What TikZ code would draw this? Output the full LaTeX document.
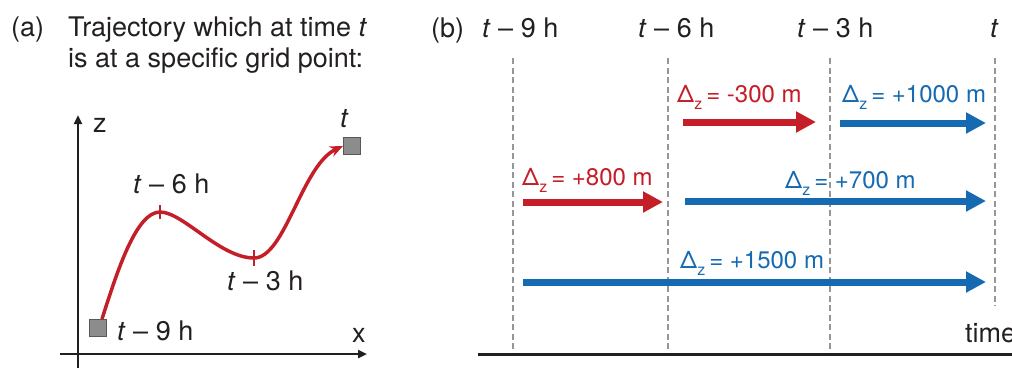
\documentclass[tikz,border=0pt]{standalone}
\usepackage{fontspec}
\setmainfont{TeX Gyre Heros}
\usetikzlibrary{arrows.meta}
\definecolor{tred}{RGB}{196,30,40}
\definecolor{tblue}{RGB}{22,106,178}
\definecolor{tgray}{RGB}{150,150,150}
\definecolor{sqfill}{RGB}{140,140,140}
\definecolor{ink}{RGB}{35,31,32}
\newcommand{\Dz}{Δ\raisebox{-0.3em}{\fontsize{16}{16}\selectfont z}}
\newcommand{\tm}[1]{\textit{t} – #1 h}
\begin{document}
\begin{tikzpicture}[x=1pt,y=-1pt,
  hdr/.style={anchor=base west, inner sep=0pt, font=\fontsize{27}{31}\selectfont, text=ink},
  lbl/.style={anchor=base west, inner sep=0pt, font=\fontsize{24}{28}\selectfont},
  fat/.style={line width=7pt, -{Triangle[length=20pt,width=20pt]}},
  gridline/.style={tgray, line width=2pt, dash pattern=on 6pt off 3.5pt},
  gp/.style={draw=ink!75, fill=sqfill, line width=1pt, minimum size=17pt, inner sep=0pt},
  axis/.style={ink, line width=2.5pt, -{Triangle[length=9pt,width=8pt]}}
]
\useasboundingbox (0,0) rectangle (1012,368);
% ---------- panel (a)
\node[hdr] (la) at (11,36) {(a)};
\node[hdr] (ta1) at (68,36) {Trajectory which at time \textit{t}};
\node[hdr] (ta2) at (68,67) {is at a specific grid point:};
\coordinate (zb) at (78,368);
\coordinate (zt) at (78,115);
\coordinate (xl) at (60,354);
\coordinate (xr) at (367,354);
\draw[axis] (zb) -- (zt);
\draw[axis] (xl) -- (xr);
\node[hdr] (zl) at (93,132) {z};
\node[hdr] (xlab) at (352,342) {x};
\node[gp] (s0) at (98,328) {};
\node[gp] (s1) at (352,146) {};
\coordinate (p6) at (160,212);
\coordinate (p3) at (254,258);
\draw[tred, line width=3.5pt, -{Stealth[length=13pt,width=11pt]}]
  ([xshift=4pt]s0.north) .. controls (117,272) and (136,212) .. (p6)
  .. controls (183,212) and (220,258) .. (p3)
  .. controls (285,258) and (302,165) .. (s1.west);
\draw[tred, line width=2pt] ([yshift=-7pt]p6) -- ([yshift=7pt]p6);
\draw[tred, line width=2pt] ([yshift=-8pt]p3) -- ([yshift=8pt]p3);
\node[hdr] (lt) at (340,127) {\textit{t}};
\node[hdr] (l6) at (133,193) {\tm{6}};
\node[hdr] (l3) at (227,290) {\tm{3}};
\node[hdr] (l9) at (117,340) {\tm{9}};
% ---------- panel (b)
\node[hdr] (lb) at (431,37) {(b)};
\node[hdr] (h9) at (482,37) {\tm{9}};
\node[hdr] (h6) at (638,37) {\tm{6}};
\node[hdr] (h3) at (797,37) {\tm{3}};
\node[hdr] (h0) at (990,37) {\textit{t}};
\coordinate (g9t) at (513,58); \coordinate (g9b) at (513,354);
\coordinate (g6t) at (668,58); \coordinate (g6b) at (668,354);
\coordinate (g3t) at (830,58); \coordinate (g3b) at (830,354);
\coordinate (g0t) at (995,58); \coordinate (g0b) at (995,306);
\draw[gridline] (g9t) -- (g9b);
\draw[gridline] (g6t) -- (g6b);
\draw[gridline] (g3t) -- (g3b);
\draw[gridline] (g0t) -- (g0b);
\coordinate (tal) at (478,354);
\coordinate (tar) at (1012,354);
\draw[ink, line width=3pt] (tal) -- (tar);
\node[hdr] (tmlab) at (965,342) {time};
% arrows
\coordinate (r1a) at (683,122); \coordinate (r1b) at (816,122);
\coordinate (b1a) at (840,123); \coordinate (b1b) at (986,123);
\coordinate (r2a) at (523,202); \coordinate (r2b) at (663,202);
\coordinate (b2a) at (685,201); \coordinate (b2b) at (986,201);
\coordinate (b3a) at (523,282); \coordinate (b3b) at (986,282);
\draw[fat, tred] (r1a) -- (r1b);
\draw[fat, tblue] (b1a) -- (b1b);
\draw[fat, tred] (r2a) -- (r2b);
\draw[fat, tblue] (b2a) -- (b2b);
\draw[fat, tblue] (b3a) -- (b3b);
\node[lbl, text=tred] (d1) at (677,102) {\Dz\,= -300 m};
\node[lbl, text=tblue] (d2) at (842,102) {\Dz\,= +1000 m};
\node[lbl, text=tred] (d3) at (522,185) {\Dz\,= +800 m};
\node[lbl, text=tblue] (d4) at (785,188) {\Dz\,= +700 m};
\node[lbl, text=tblue] (d5) at (680,268) {\Dz\,= +1500 m};
\end{tikzpicture}
\end{document}
